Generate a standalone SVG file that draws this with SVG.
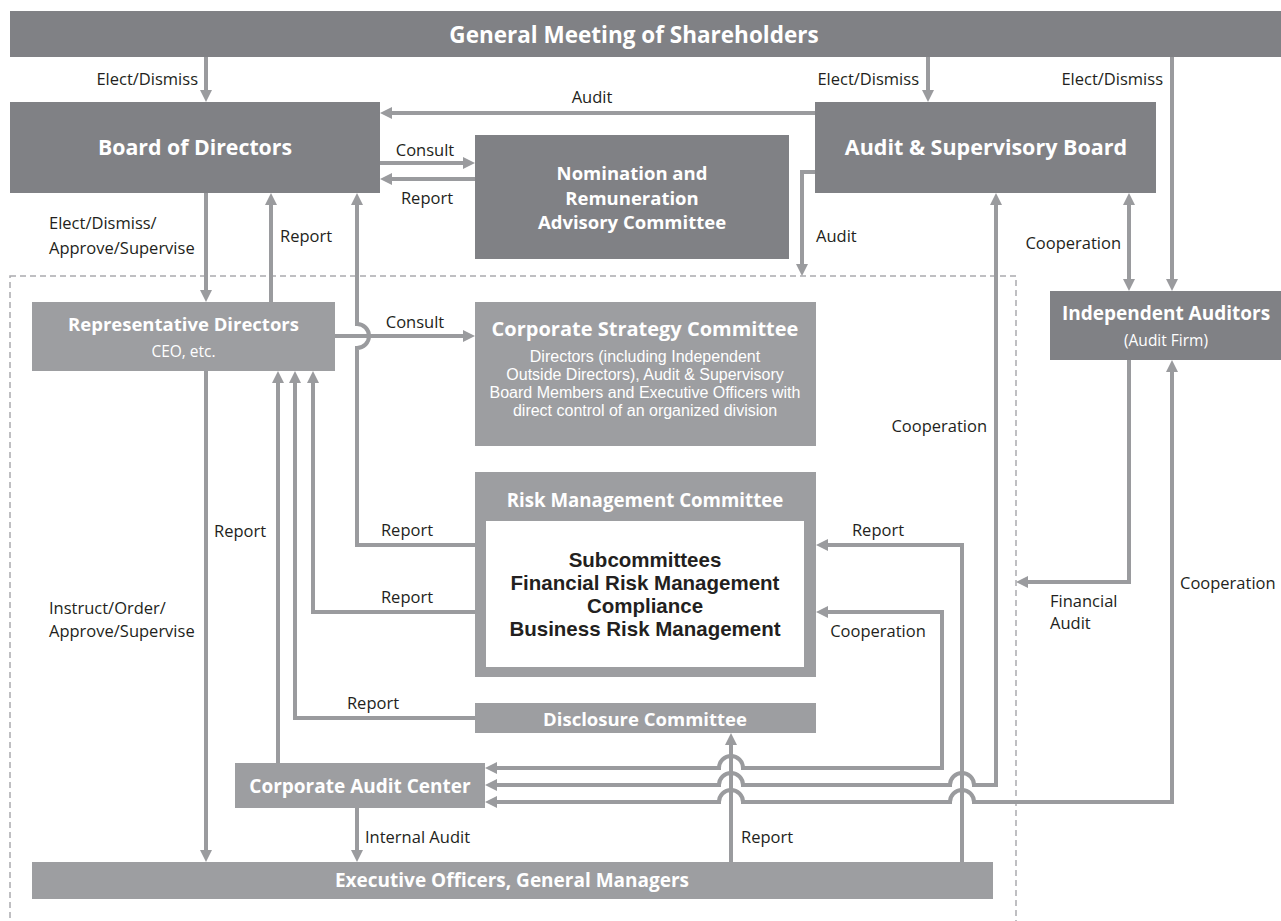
<svg xmlns="http://www.w3.org/2000/svg" width="1281" height="921" viewBox="0 0 1281 921">
<style>
.dk{fill:#808185}
.lt{fill:#9d9ea1}
.bt{font-family:'Open Sans','Liberation Sans',sans-serif;font-weight:700;fill:#fff;text-anchor:middle;dominant-baseline:central}
.it{font-family:'Liberation Sans','Open Sans',sans-serif;font-weight:700;fill:#231f20;text-anchor:middle;dominant-baseline:central;font-size:20.5px}
.st{font-family:'Open Sans','Liberation Sans',sans-serif;font-weight:400;fill:#fff;text-anchor:middle;dominant-baseline:central}
.sb{font-family:'Liberation Sans','Open Sans',sans-serif;font-weight:400;fill:#fff;text-anchor:middle;dominant-baseline:central;font-size:16px}
.lb{font-family:'Open Sans','Liberation Sans',sans-serif;font-size:16.5px;fill:#231f20;dominant-baseline:central}
.cn{fill:none;stroke:#9a9b9e;stroke-width:4}
.ar{marker-end:url(#ah)}
.ar2{marker-start:url(#ah);marker-end:url(#ah)}
</style>
<defs>
<marker id="ah" viewBox="0 0 12 12" refX="8" refY="6" markerWidth="12" markerHeight="12" markerUnits="userSpaceOnUse" orient="auto-start-reverse"><path d="M0,0L12,6L0,12z" fill="#9a9b9e"/></marker>
</defs>
<rect width="1281" height="921" fill="#fff"/>
<rect id="scope" x="10" y="276" width="1006" height="660" fill="none" stroke="#aaabae" stroke-width="1.5" stroke-dasharray="6 4"/>

<g id="connectors">
<path class="cn ar" d="M206,57V98"/>
<path class="cn ar" d="M928,57V98"/>
<path class="cn ar" d="M1172,57V287"/>
<path class="cn ar" d="M815,113H384"/>
<path class="cn ar" d="M380,163H471"/>
<path class="cn ar" d="M475,179H384"/>
<path class="cn ar" d="M815,172H802V272"/>
<path class="cn ar2" d="M1129,197V287"/>
<path class="cn ar" d="M206,193V298"/>
<path class="cn ar" d="M271,302V197"/>
<path class="cn ar" d="M475,545H357V348A12,12 0 0 0 357,324V197"/>
<path class="cn ar" d="M335,336H471"/>
<path class="cn ar" d="M206,371V858"/>
<path class="cn ar" d="M278,763V375"/>
<path class="cn ar" d="M475,718H295V375"/>
<path class="cn ar" d="M475,612H313V375"/>
<path class="cn ar" d="M357,808V858"/>
<path class="cn ar" d="M731,862V737"/>
<path class="cn ar" d="M962,862V545H820"/>
<path class="cn ar2" d="M820,612H942V768H743A12,12 0 0 0 719,768H489"/>
<path class="cn ar2" d="M996,197V785H974A12,12 0 0 0 950,785H743A12,12 0 0 0 719,785H489"/>
<path class="cn ar2" d="M1172,364V802H974A12,12 0 0 0 950,802H743A12,12 0 0 0 719,802H489"/>
<path class="cn ar" d="M1129,360V582H1020"/>
</g>

<g id="labels">
<text class="lb" x="198" y="78" text-anchor="end">Elect/Dismiss</text>
<text class="lb" x="919" y="78" text-anchor="end">Elect/Dismiss</text>
<text class="lb" x="1163" y="78" text-anchor="end">Elect/Dismiss</text>
<text class="lb" x="592" y="96" text-anchor="middle">Audit</text>
<text class="lb" x="425" y="149" text-anchor="middle">Consult</text>
<text class="lb" x="427" y="197" text-anchor="middle">Report</text>
<text class="lb" x="816" y="235">Audit</text>
<text class="lb" x="1121" y="242" text-anchor="end">Cooperation</text>
<text class="lb" x="49" y="222">Elect/Dismiss/</text>
<text class="lb" x="49" y="247">Approve/Supervise</text>
<text class="lb" x="280" y="235">Report</text>
<text class="lb" x="415" y="321" text-anchor="middle">Consult</text>
<text class="lb" x="987" y="425" text-anchor="end">Cooperation</text>
<text class="lb" x="214" y="530">Report</text>
<text class="lb" x="49" y="607">Instruct/Order/</text>
<text class="lb" x="49" y="630">Approve/Supervise</text>
<text class="lb" x="407" y="529" text-anchor="middle">Report</text>
<text class="lb" x="407" y="596" text-anchor="middle">Report</text>
<text class="lb" x="373" y="702" text-anchor="middle">Report</text>
<text class="lb" x="878" y="529" text-anchor="middle">Report</text>
<text class="lb" x="878" y="630" text-anchor="middle">Cooperation</text>
<text class="lb" x="1050" y="600">Financial</text>
<text class="lb" x="1050" y="622">Audit</text>
<text class="lb" x="1180" y="582">Cooperation</text>
<text class="lb" x="365" y="836">Internal Audit</text>
<text class="lb" x="741" y="836">Report</text>
</g>

<g id="gm">
<rect class="dk" x="10" y="11" width="1271" height="46"/>
<text class="bt" x="634" y="34" font-size="22.5">General Meeting of Shareholders</text>
</g>
<g id="board">
<rect class="dk" x="10" y="102" width="370" height="91"/>
<text class="bt" x="195" y="146" font-size="21.3">Board of Directors</text>
</g>
<g id="nomination">
<rect class="dk" x="475" y="135" width="314" height="124"/>
<text class="bt" x="632" y="172" font-size="18.5">Nomination and</text>
<text class="bt" x="632" y="197" font-size="18.5">Remuneration</text>
<text class="bt" x="632" y="221" font-size="18.5">Advisory Committee</text>
</g>
<g id="audit-board">
<rect class="dk" x="815" y="102" width="341" height="91"/>
<text class="bt" x="986" y="146" font-size="21.5">Audit &amp; Supervisory Board</text>
</g>
<g id="independent-auditors">
<rect class="dk" x="1050" y="291" width="231" height="69"/>
<text class="bt" x="1166" y="313" font-size="19">Independent Auditors</text>
<text class="st" x="1166" y="340" font-size="15.5">(Audit Firm)</text>
</g>
<g id="representative-directors">
<rect class="lt" x="32" y="302" width="303" height="69"/>
<text class="bt" x="183.5" y="323" font-size="18.5">Representative Directors</text>
<text class="st" x="183.5" y="351" font-size="15.5">CEO, etc.</text>
</g>
<g id="corporate-strategy">
<rect class="lt" x="475" y="302" width="341" height="144"/>
<text class="bt" x="645" y="328" font-size="20">Corporate Strategy Committee</text>
<text class="sb" x="645" y="356">Directors (including Independent</text>
<text class="sb" x="645" y="374">Outside Directors), Audit &amp; Supervisory</text>
<text class="sb" x="645" y="392">Board Members and Executive Officers with</text>
<text class="sb" x="645" y="410">direct control of an organized division</text>
</g>
<g id="risk-management">
<rect class="lt" x="475" y="472" width="341" height="205"/>
<rect x="486" y="521" width="318" height="146" fill="#fff"/>
<text class="bt" x="645" y="499" font-size="18.7">Risk Management Committee</text>
<text class="it" x="645" y="559">Subcommittees</text>
<text class="it" x="645" y="582">Financial Risk Management</text>
<text class="it" x="645" y="605">Compliance</text>
<text class="it" x="645" y="628">Business Risk Management</text>
</g>
<g id="disclosure">
<rect class="lt" x="475" y="703" width="341" height="30"/>
<text class="bt" x="645" y="718" font-size="18.5">Disclosure Committee</text>
</g>
<g id="corporate-audit">
<rect class="lt" x="235" y="763" width="250" height="45"/>
<text class="bt" x="360" y="786" font-size="19">Corporate Audit Center</text>
</g>
<g id="executive-officers">
<rect class="lt" x="32" y="862" width="961" height="37"/>
<text class="bt" x="512" y="880" font-size="19">Executive Officers, General Managers</text>
</g>
</svg>
